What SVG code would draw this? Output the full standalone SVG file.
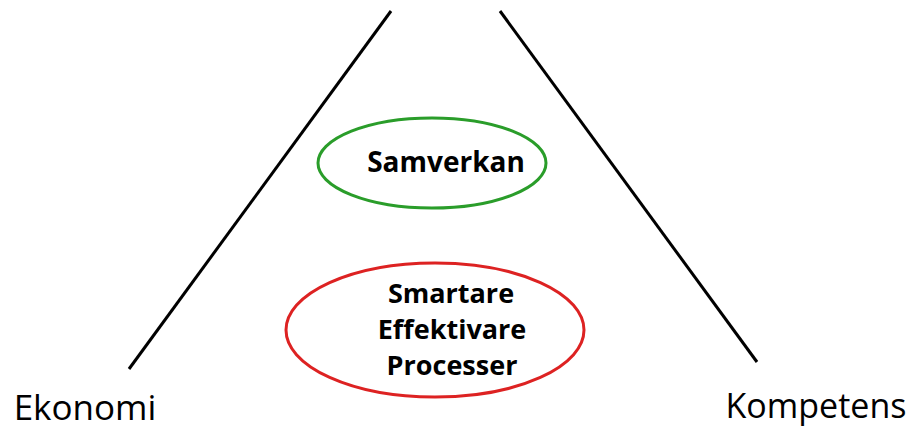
<svg xmlns="http://www.w3.org/2000/svg" width="916" height="429" viewBox="0 0 916 429">
<style>
.t{font-family:"Open Sans","Liberation Sans",sans-serif;fill:#000;text-anchor:middle}
.b{font-weight:bold}
.line{stroke:#000;stroke-width:3;fill:none}
</style>
<rect width="916" height="429" fill="#fff"/>
<g id="connectors">
<line class="line" x1="391" y1="11" x2="129" y2="369"/>
<line class="line" x1="500" y1="11" x2="757" y2="362"/>
</g>
<g id="samverkan">
<ellipse cx="432" cy="163" rx="114" ry="45" fill="none" stroke="#2a9d2a" stroke-width="3"/>
<text class="t b" x="446" y="172" font-size="28">Samverkan</text>
</g>
<g id="processer">
<ellipse cx="435" cy="330" rx="149" ry="67" fill="none" stroke="#dd2222" stroke-width="3"/>
<text class="t b" x="451" y="303" font-size="27">Smartare</text>
<text class="t b" x="452" y="339" font-size="27">Effektivare</text>
<text class="t b" x="452" y="375" font-size="27">Processer</text>
</g>
<g id="ekonomi">
<text class="t" x="85" y="420" font-size="35">Ekonomi</text>
</g>
<g id="kompetens">
<text class="t" x="816" y="418" font-size="34">Kompetens</text>
</g>
</svg>
